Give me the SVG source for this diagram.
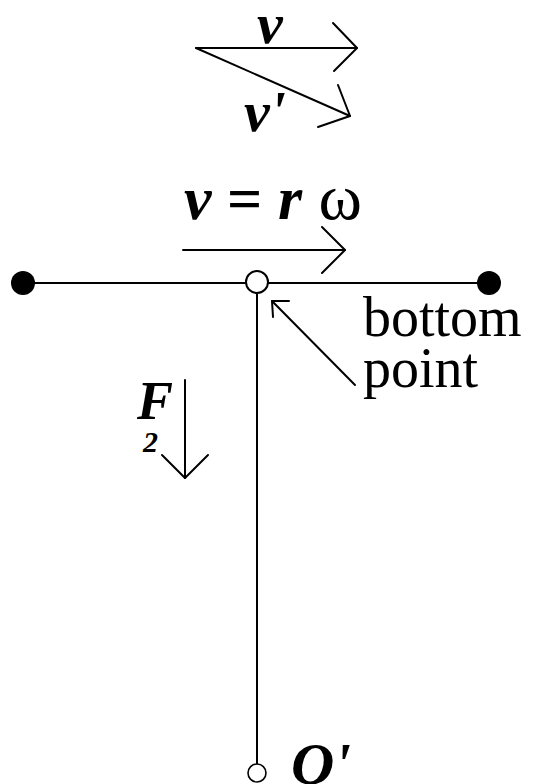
<svg xmlns="http://www.w3.org/2000/svg" width="536" height="784" viewBox="0 0 536 784">
<style>
.ln{stroke:#000;stroke-width:2;fill:none;stroke-linecap:round;stroke-linejoin:round}
.bi{font-family:"Liberation Serif","Times New Roman",serif;font-weight:bold;font-style:italic;fill:#000}
.rg{font-family:"Liberation Serif","Times New Roman",serif;fill:#000}
</style>
<rect width="536" height="784" fill="#fff"/>
<g id="connectors">
<line class="ln" x1="196" y1="48" x2="357" y2="48"/>
<polyline class="ln" points="333,23 357,48 334,71"/>
<line class="ln" x1="196" y1="48" x2="350" y2="116"/>
<polyline class="ln" points="338,85 350,116 318,127"/>
<line class="ln" x1="183" y1="250" x2="345" y2="250"/>
<polyline class="ln" points="322,227 345,250 322,273"/>
<line class="ln" x1="22" y1="283" x2="489" y2="283"/>
<line class="ln" x1="257" y1="293" x2="257" y2="764"/>
<line class="ln" x1="355" y1="385" x2="272" y2="301"/>
<polyline class="ln" points="289,301 272,301 273,317"/>
<line class="ln" x1="185" y1="380" x2="185" y2="478"/>
<polyline class="ln" points="162,455 185,478 208,455"/>
</g>
<g id="node-left"><circle cx="23" cy="283" r="12" fill="#000"/></g>
<g id="node-right"><circle cx="489" cy="283" r="12" fill="#000"/></g>
<g id="node-bottom-point"><circle cx="257" cy="282" r="11" fill="#fff" stroke="#000" stroke-width="2"/></g>
<g id="node-O"><circle cx="257" cy="773" r="9" fill="#fff" stroke="#000" stroke-width="1.6"/></g>
<g id="labels">
<text class="bi" x="257" y="43" font-size="58">v</text>
<text class="bi" x="244" y="131" font-size="58">v'</text>
<text x="184" y="219" font-size="62"><tspan class="bi">v</tspan><tspan class="rg" font-weight="bold"> = </tspan><tspan class="bi">r</tspan><tspan class="rg" font-size="66"> ω</tspan></text>
<text class="rg" x="363" y="336" font-size="56">bottom</text>
<text class="rg" x="363" y="387" font-size="56">point</text>
<text class="bi" x="137" y="419" font-size="54">F</text>
<text class="bi" x="143" y="452" font-size="30">2</text>
<text class="bi" x="291" y="784" font-size="60">O'</text>
</g>
</svg>
